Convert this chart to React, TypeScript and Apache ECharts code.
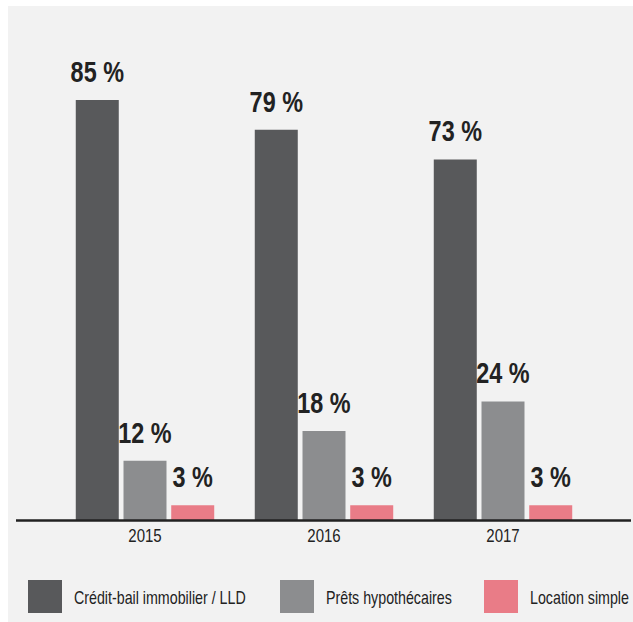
import React, { useEffect, useRef } from "react";
import * as echarts from "echarts";

const years = ["2015", "2016", "2017"];
const seriesNames = ["Crédit-bail immobilier / LLD", "Prêts hypothécaires", "Location simple"];
const creditBail = [85, 79, 73];
const prets = [12, 18, 24];
const location = [3, 3, 3];
const colors = ["#58595b", "#8c8d8f", "#e97c87"];

const FONT = "'Liberation Sans', Arial, sans-serif";
const BAR_W = 43;
const BAR_GAP = 0.11;

export default function App() {
  const ref = useRef<HTMLDivElement>(null);
  useEffect(() => {
    if (!ref.current) return;
    const chart = echarts.init(ref.current, null, { renderer: "svg" });
    const values = [creditBail, prets, location];

    const labelData: number[][] = [];
    values.forEach((arr, s) =>
      arr.forEach((v, c) => labelData.push([c, v, s]))
    );
    const yearData = years.map((_, i) => [i, 0]);

    const legendX = [28, 280, 484];
    const legendGraphics: any[] = [];
    seriesNames.forEach((name, i) => {
      legendGraphics.push({
        type: "rect",
        z: 50,
        shape: { x: legendX[i], y: 580, width: 34, height: 33 },
        style: { fill: colors[i] },
      });
      legendGraphics.push({
        type: "text",
        z: 50,
        x: legendX[i] + 46,
        y: 598,
        scaleX: 0.75,
        style: {
          text: name,
          fontFamily: FONT,
          fontSize: 19,
          fill: "#222222",
          align: "left",
          verticalAlign: "middle",
        },
      });
    });

    chart.setOption({
      animation: false,
      backgroundColor: "#ffffff",
      textStyle: { fontFamily: FONT },
      graphic: [
        {
          type: "rect",
          z: -10,
          shape: { x: 8, y: 6, width: 625, height: 616 },
          style: { fill: "#f2f2f2" },
        },
        {
          type: "line",
          z: 100,
          shape: { x1: 16, y1: 520.5, x2: 631, y2: 520.5 },
          style: { stroke: "#222222", lineWidth: 2.5 },
        },
        ...legendGraphics,
      ],
      grid: { left: 55.5, right: 40.5, top: 26, bottom: 102 },
      xAxis: {
        type: "category",
        data: years,
        axisLine: { show: false },
        axisTick: { show: false },
        axisLabel: { show: false },
      },
      yAxis: {
        type: "value",
        min: 0,
        max: 100,
        show: false,
        splitLine: { show: false },
      },
      series: [
        ...seriesNames.map((name, i) => ({
          name,
          type: "bar",
          data: values[i],
          barWidth: BAR_W,
          barGap: BAR_GAP * 100 + "%",
          itemStyle: { color: colors[i] },
        })),
        {
          type: "custom",
          name: "labels",
          data: labelData,
          encode: { x: 0, y: 1 },
          z: 10,
          renderItem: (params: any, api: any) => {
            const c = api.value(0);
            const v = api.value(1);
            const s = api.value(2);
            const pt = api.coord([c, v]);
            const offset = (s - 1) * (BAR_W * (1 + BAR_GAP));
            return {
              type: "text",
              x: pt[0] + offset,
              y: pt[1] - 13,
              scaleX: 0.78,
              style: {
                text: v + " %",
                fontFamily: FONT,
                fontWeight: "bold",
                fontSize: 30,
                fill: "#222222",
                align: "center",
                verticalAlign: "bottom",
              },
            };
          },
        },
        {
          type: "custom",
          name: "years",
          data: yearData,
          encode: { x: 0, y: 1 },
          z: 10,
          renderItem: (params: any, api: any) => {
            const c = api.value(0);
            const pt = api.coord([c, 0]);
            return {
              type: "text",
              x: pt[0],
              y: pt[1] + 6,
              scaleX: 0.79,
              style: {
                text: years[c],
                fontFamily: FONT,
                fontSize: 19,
                fill: "#222222",
                align: "center",
                verticalAlign: "top",
              },
            };
          },
        },
      ],
    });
    return () => chart.dispose();
  }, []);
  return (
    <div
      ref={ref}
      style={{ position: "fixed", left: 0, top: 0, width: 633, height: 622 }}
    />
  );
}
